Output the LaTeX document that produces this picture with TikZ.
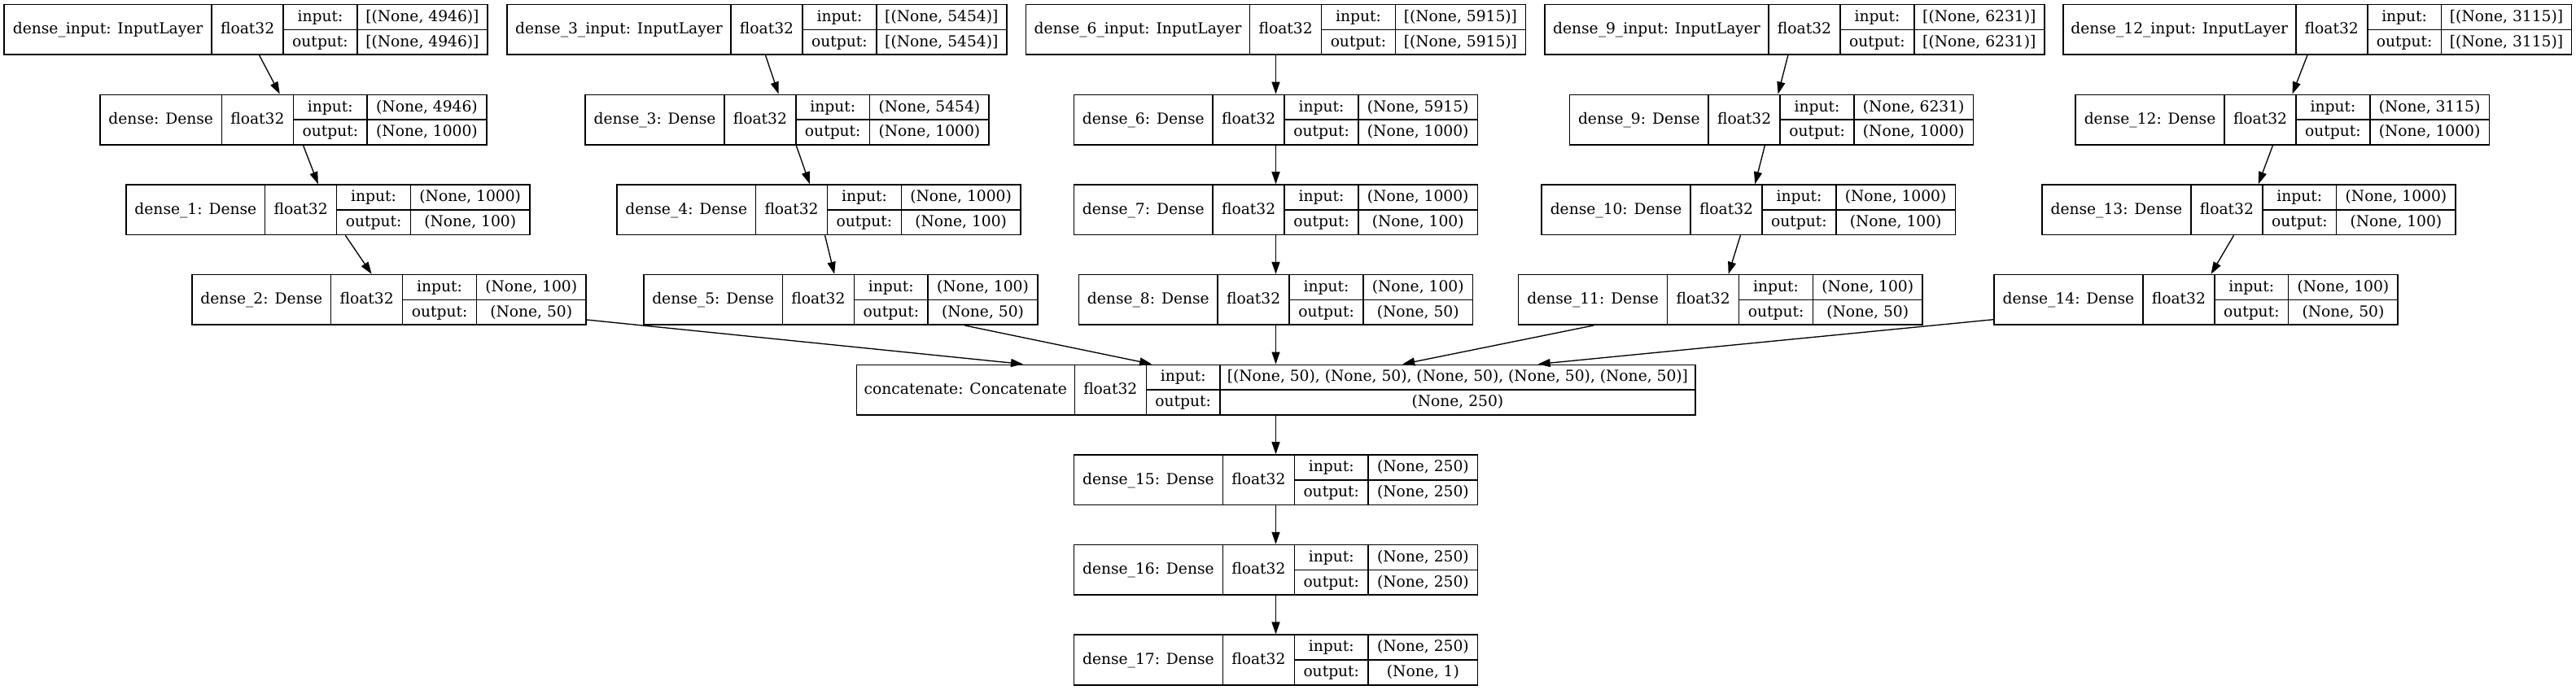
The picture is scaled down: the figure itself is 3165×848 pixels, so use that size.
\documentclass[tikz,border=0pt]{standalone}
\usepackage{fontspec}
\setmainfont{DejaVu Serif}
\usetikzlibrary{arrows.meta}
\tikzset{
  layerbox/.style={draw, line width=1.6pt, inner sep=0pt, rectangle},
  celltxt/.style={inner sep=0pt, text height=14pt, text depth=3.4pt, font=\fontsize{18.67}{22}\selectfont},
  divider/.style={line width=1.6pt},
  edge/.style={-{Triangle[length=15pt,width=10pt]}, line width=1.33pt},
}
% #1 name, #2 centre x, #3 top y, #4 name-cell width, #5 shape-cell width,
% #6 label, #7 input shape, #8 output shape
\newcommand\klayer[8]{%
  \pgfmathsetmacro\LyW{#4+88+90.8+#5}%
  \pgfmathsetmacro\LyL{#2-\LyW/2}%
  \pgfmathsetmacro\LyR{#2+\LyW/2}%
  \pgfmathsetmacro\LyA{\LyL+#4}%
  \pgfmathsetmacro\LyB{\LyA+88}%
  \pgfmathsetmacro\LyC{\LyB+90.8}%
  \pgfmathsetmacro\LyT{#3}%
  \pgfmathsetmacro\LyM{#3+30.75}%
  \pgfmathsetmacro\LyE{#3+61.5}%
  \pgfmathsetmacro\LyU{#3+15.375}%
  \pgfmathsetmacro\LyD{#3+46.125}%
  \node[layerbox, minimum width=\LyW pt, minimum height=61.5pt] (#1) at (#2,\LyM) {};
  \draw[divider] (\LyA,\LyT) -- (\LyA,\LyE) (\LyB,\LyT) -- (\LyB,\LyE)
     (\LyC,\LyT) -- (\LyC,\LyE) (\LyB,\LyM) -- (\LyR,\LyM);
  \node[celltxt] (#1-l) at ({(\LyL+\LyA)/2},\LyM) {#6};
  \node[celltxt] (#1-f) at ({(\LyA+\LyB)/2},\LyM) {float32};
  \node[celltxt] (#1-i) at ({(\LyB+\LyC)/2},\LyU) {input:};
  \node[celltxt] (#1-o) at ({(\LyB+\LyC)/2},\LyD) {output:};
  \node[celltxt] (#1-is) at ({(\LyC+\LyR)/2},\LyU) {#7};
  \node[celltxt] (#1-os) at ({(\LyC+\LyR)/2},\LyD) {#8};
}
\begin{document}
\begin{tikzpicture}[x=1pt,y=-1pt]
\path[fill=white] (0,0) rectangle (3165,848);
\useasboundingbox (0,0) rectangle (3165,848);
% row 0
\klayer{din}{302}{5.7}{255}{160}{dense\_input: InputLayer}{[(None, 4946)]}{[(None, 4946)]}
\klayer{d3in}{929.9}{5.7}{275}{160}{dense\_3\_input: InputLayer}{[(None, 5454)]}{[(None, 5454)]}
\klayer{d6in}{1567.5}{5.7}{275}{160}{dense\_6\_input: InputLayer}{[(None, 5915)]}{[(None, 5915)]}
\klayer{d9in}{2204.9}{5.7}{275}{160}{dense\_9\_input: InputLayer}{[(None, 6231)]}{[(None, 6231)]}
\klayer{d12in}{2847.1}{5.7}{286}{160}{dense\_12\_input: InputLayer}{[(None, 3115)]}{[(None, 3115)]}
% row 1
\klayer{d0}{360.4}{116.35}{149.4}{146.5}{dense: Dense}{(None, 4946)}{(None, 1000)}
\klayer{d3}{967.2}{116.35}{170.6}{146.5}{dense\_3: Dense}{(None, 5454)}{(None, 1000)}
\klayer{d6}{1567.5}{116.35}{170.6}{146.5}{dense\_6: Dense}{(None, 5915)}{(None, 1000)}
\klayer{d9}{2176.5}{116.35}{170.6}{146.5}{dense\_9: Dense}{(None, 6231)}{(None, 1000)}
\klayer{d12}{2804.2}{116.35}{183}{146.5}{dense\_12: Dense}{(None, 3115)}{(None, 1000)}
% row 2
\klayer{d1}{403}{227}{170.6}{146.5}{dense\_1: Dense}{(None, 1000)}{(None, 100)}
\klayer{d4}{1005.9}{227}{170.6}{146.5}{dense\_4: Dense}{(None, 1000)}{(None, 100)}
\klayer{d7}{1567.5}{227}{170.6}{146.5}{dense\_7: Dense}{(None, 1000)}{(None, 100)}
\klayer{d10}{2148.2}{227}{183}{146.5}{dense\_10: Dense}{(None, 1000)}{(None, 100)}
\klayer{d13}{2763}{227}{183}{146.5}{dense\_13: Dense}{(None, 1000)}{(None, 100)}
% row 3
\klayer{d2}{478}{337.65}{170.6}{134.5}{dense\_2: Dense}{(None, 100)}{(None, 50)}
\klayer{d5}{1032.8}{337.65}{170.6}{134.5}{dense\_5: Dense}{(None, 100)}{(None, 50)}
\klayer{d8}{1567.5}{337.65}{170.6}{134.5}{dense\_8: Dense}{(None, 100)}{(None, 50)}
\klayer{d11}{2113.8}{337.65}{183}{134.5}{dense\_11: Dense}{(None, 100)}{(None, 50)}
\klayer{d14}{2698}{337.65}{183}{134.5}{dense\_14: Dense}{(None, 100)}{(None, 50)}
% row 4..7
\klayer{cat}{1567.5}{448.3}{268}{583.6}{concatenate: Concatenate}{[(None, 50), (None, 50), (None, 50), (None, 50), (None, 50)]}{(None, 250)}
\klayer{d15}{1567.5}{558.95}{183}{134.5}{dense\_15: Dense}{(None, 250)}{(None, 250)}
\klayer{d16}{1567.5}{669.6}{183}{134.5}{dense\_16: Dense}{(None, 250)}{(None, 250)}
\klayer{d17}{1567.5}{780.25}{183}{134.5}{dense\_17: Dense}{(None, 250)}{(None, 1)}
% edges
\draw[edge] (din) -- (d0);
\draw[edge] (d0) -- (d1);
\draw[edge] (d1) -- (d2);
\draw[edge] (d2) -- (cat);
\draw[edge] (d3in) -- (d3);
\draw[edge] (d3) -- (d4);
\draw[edge] (d4) -- (d5);
\draw[edge] (d5) -- (cat);
\draw[edge] (d6in) -- (d6);
\draw[edge] (d6) -- (d7);
\draw[edge] (d7) -- (d8);
\draw[edge] (d8) -- (cat);
\draw[edge] (d9in) -- (d9);
\draw[edge] (d9) -- (d10);
\draw[edge] (d10) -- (d11);
\draw[edge] (d11) -- (cat);
\draw[edge] (d12in) -- (d12);
\draw[edge] (d12) -- (d13);
\draw[edge] (d13) -- (d14);
\draw[edge] (d14) -- (cat);
\draw[edge] (cat) -- (d15);
\draw[edge] (d15) -- (d16);
\draw[edge] (d16) -- (d17);
\end{tikzpicture}
\end{document}
